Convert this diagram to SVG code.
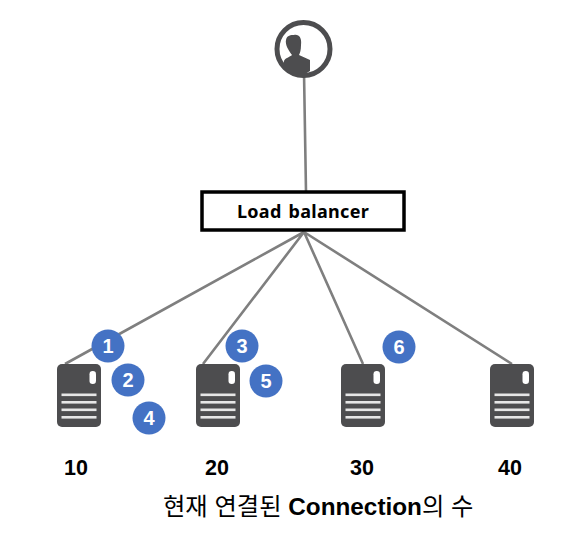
<svg xmlns="http://www.w3.org/2000/svg" width="582" height="537" viewBox="0 0 582 537">
<defs>
<g id="srv">
<rect x="0" y="0" width="44" height="63" rx="5" fill="#4d4d4f"/>
<rect x="32.500" y="7" width="6.500" height="13" rx="3.200" fill="#fff"/>
<g fill="#e6e6e6"><rect x="4.500" y="29.500" width="35" height="2.600"/><rect x="4.500" y="37" width="35" height="2.600"/><rect x="4.500" y="44.500" width="35" height="2.600"/><rect x="4.500" y="52" width="35" height="2.600"/></g>
</g>
</defs>
<style>
.c{stroke:#7f7f7f;stroke-width:2.600;fill:none}
.b{fill:#4472c4}
.n{font:bold 20px "Liberation Sans",Arial,sans-serif;fill:#fff;text-anchor:middle}
.v{font:bold 21.500px "Liberation Sans",Arial,sans-serif;fill:#000;text-anchor:middle}
</style>
<rect width="582" height="537" fill="#fff"/>
<g id="connectors">
<path class="c" d="M304 72L306 192M304 232L65 364M304 232L203 364M304 232L363 364M304 232L512 364"/>
</g>
<g id="user">
<circle cx="303.500" cy="49" r="26.500" fill="#fff" stroke="#4d4d4f" stroke-width="5"/>
<path fill="#4d4d4f" d="M283 66L284 61C285 58 290 57 292 55C288 50 285 44 286 40C287 35 291 35 294 35C299 34 302 38 301 45C301 50 300 53 299 55L310 60L310 71L305 74L293 74L288 72Z"/>
</g>
<g id="load-balancer">
<rect x="202" y="192" width="202" height="38" fill="#fff" stroke="#000" stroke-width="3.500"/>
<text x="303" y="218" text-anchor="middle" style="font:bold 18px 'Noto Sans',sans-serif;letter-spacing:.3px;word-spacing:2px">Load balancer</text>
</g>
<g id="server-10"><use href="#srv" x="57" y="364"/><text class="v" x="76" y="475">10</text></g>
<g id="server-20"><use href="#srv" x="196" y="364"/><text class="v" x="217" y="475">20</text></g>
<g id="server-30"><use href="#srv" x="341" y="364"/><text class="v" x="362" y="475">30</text></g>
<g id="server-40"><use href="#srv" x="490" y="364"/><text class="v" x="510" y="475">40</text></g>
<g id="badge-1"><circle class="b" cx="108" cy="346" r="16.500"/><text class="n" x="108" y="353">1</text></g>
<g id="badge-2"><circle class="b" cx="128" cy="380" r="16.500"/><text class="n" x="128" y="387">2</text></g>
<g id="badge-4"><circle class="b" cx="149" cy="418" r="16.500"/><text class="n" x="149" y="425">4</text></g>
<g id="badge-3"><circle class="b" cx="242" cy="346" r="16.500"/><text class="n" x="242" y="353">3</text></g>
<g id="badge-5"><circle class="b" cx="266" cy="381" r="16.500"/><text class="n" x="266" y="388">5</text></g>
<g id="badge-6"><circle class="b" cx="399" cy="347" r="16.500"/><text class="n" x="399" y="354">6</text></g>
<text x="163" y="515" style="font:24.300px 'Liberation Sans','Noto Sans CJK KR',sans-serif" fill="#000">현재 연결된 <tspan font-weight="bold">Connection</tspan>의 수</text>
</svg>
